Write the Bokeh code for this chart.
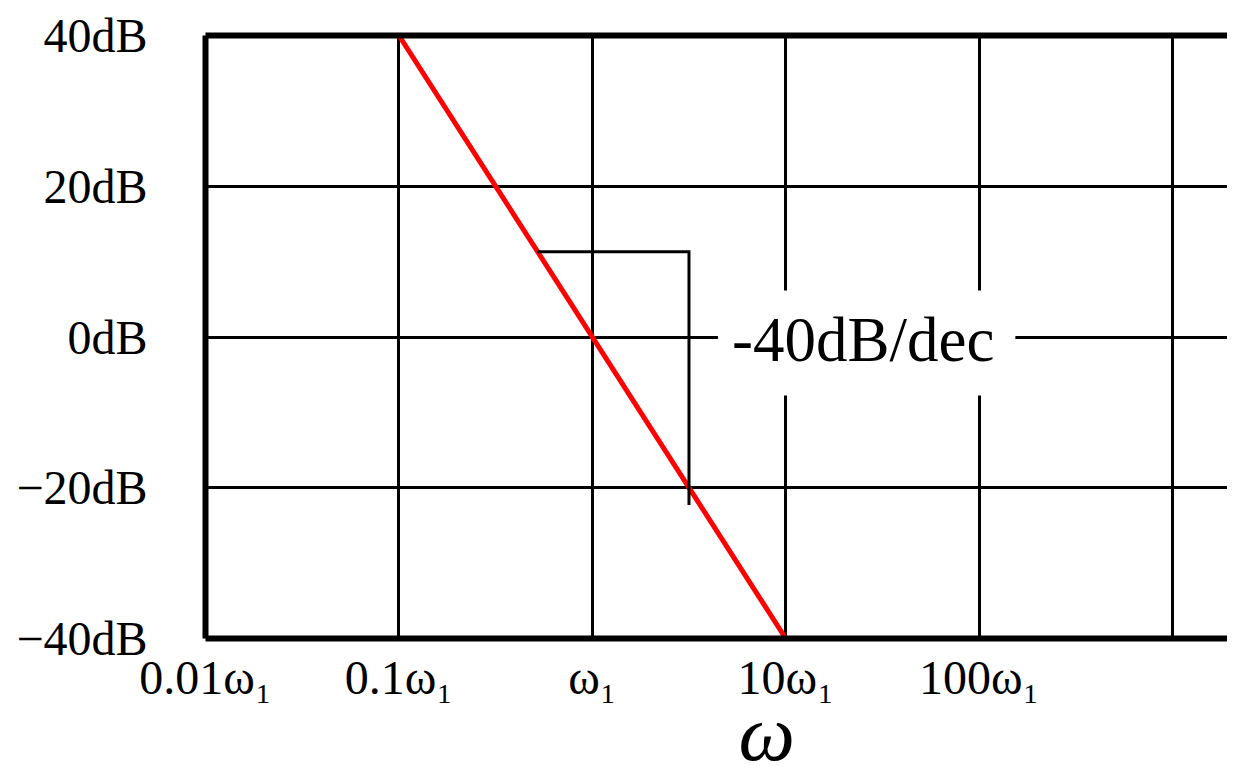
from bokeh.plotting import figure
from bokeh.models import FixedTicker, LogAxis, Label, Range1d, Title
from bokeh.embed import file_html
from bokeh.resources import INLINE

# ---- data ----
freq_ticks = [0.01, 0.1, 1, 10, 100]
freq_labels = ["0.01ω₁", "0.1ω₁", "ω₁", "10ω₁", "100ω₁"]
grid_freqs = [0.1, 1, 10, 100, 1000]
db_ticks = [-40, -20, 0, 20, 40]
db_labels = ["−40dB", "−20dB", "0dB", "20dB", "40dB"]
asym_w = [0.1, 10]
asym_db = [40, -40]
bracket_w = [0.52, 3.16, 3.16]
bracket_db = [11.3, 11.3, -22.3]
slope_text = "-40dB/dec"
x_title = "ω"

FONT = "Liberation Serif"

p = figure(width=1227, height=773, x_axis_type="log",
           x_range=Range1d(0.01, 1923), y_range=Range1d(-40, 40),
           output_backend="svg", toolbar_location=None,
           min_border_left=205, min_border_right=0,
           min_border_top=35, min_border_bottom=135)
p.background_fill_color = "white"
p.border_fill_color = "white"
p.outline_line_color = None

# grid
p.xgrid.ticker = FixedTicker(ticks=grid_freqs)
p.ygrid.ticker = FixedTicker(ticks=db_ticks)
for g in (p.xgrid, p.ygrid):
    g.grid_line_color = "black"
    g.grid_line_width = 3
    g.grid_line_alpha = 1.0

# axes
p.xaxis.ticker = FixedTicker(ticks=freq_ticks)
p.xaxis.major_label_overrides = {t: l for t, l in zip(freq_ticks, freq_labels)}
p.yaxis.ticker = FixedTicker(ticks=db_ticks)
p.yaxis.major_label_overrides = {t: l for t, l in zip(db_ticks, db_labels)}
for ax in (p.xaxis, p.yaxis):
    ax.axis_line_width = 6
    ax.axis_line_color = "black"
    ax.major_tick_in = 0
    ax.major_tick_out = 0
    ax.minor_tick_in = 0
    ax.minor_tick_out = 0
    ax.major_label_text_font = FONT
    ax.major_label_text_font_size = "48px"
    ax.major_label_text_color = "black"
p.xaxis.major_label_standoff = 12
p.yaxis.major_label_standoff = 58

top = LogAxis(ticker=FixedTicker(ticks=[]), axis_line_width=6, axis_line_color="black",
              major_tick_in=0, major_tick_out=0, minor_tick_in=0, minor_tick_out=0)
p.add_layout(top, "above")

# x-axis title (omega), placed as a title below the axis
p.add_layout(Title(text=x_title, align="left", offset=533, vertical_align="top",
                   standoff=-36, text_font=FONT, text_font_style="italic",
                   text_font_size="80px", text_color="black"), "below")

# asymptote
p.line(asym_w, asym_db, line_color="#ff0000", line_width=5)
# slope bracket
p.line(bracket_w, bracket_db, line_color="black", line_width=3, line_join="miter")

# slope annotation
p.add_layout(Label(x=26.2, y=-0.8, text=slope_text, text_font=FONT,
                   text_font_size="63px", text_color="black",
                   text_align="center", text_baseline="middle",
                   background_fill_color="white", padding=(14, 21, 14, 21)))

open("out.html", "w").write(file_html(p, INLINE))
